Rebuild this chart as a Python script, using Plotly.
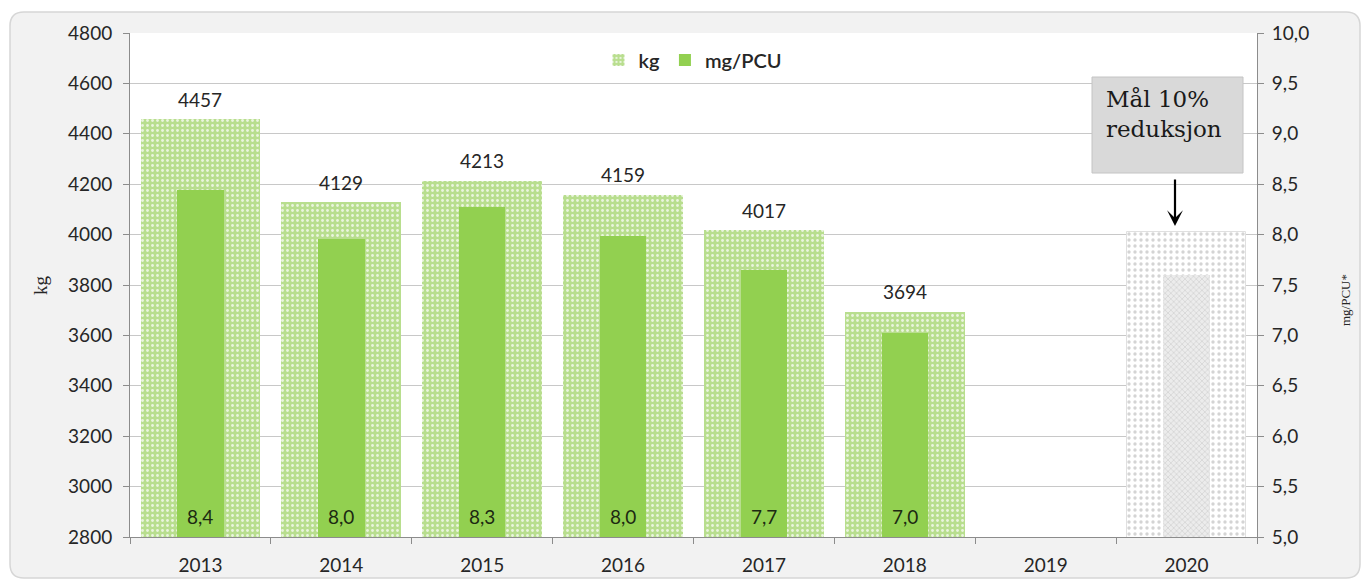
import plotly.graph_objects as go

years = ["2013", "2014", "2015", "2016", "2017", "2018", "2019", "2020"]
kg_years = ["2013", "2014", "2015", "2016", "2017", "2018"]
kg_values = [4457, 4129, 4213, 4159, 4017, 3694]
mg_values = [8.44, 7.96, 8.27, 7.99, 7.65, 7.02]
mg_labels = ["8,4", "8,0", "8,3", "8,0", "7,7", "7,0"]
target_year = ["2020"]
target_kg = [4011]
target_mg = [7.6]

# page offset of the figure (body margin) and plot area in page pixels
OFF = 8
L, R, T, B = 130, 1257, 33, 537
FW, FH = 1369 - OFF, 581 - OFF


def px(xp):
    return (xp - L) / (R - L)


def py(yp):
    return (B - yp) / (B - T)


FONT = "Lato"
TXT = "#262626"
AX = "#8c8c8c"

fig = go.Figure()

fig.add_trace(go.Bar(
    x=kg_years, y=kg_values, name="kg", width=0.85,
    marker=dict(color="#bfe29a", line=dict(width=0),
                pattern=dict(shape=".", fgcolor="#eaf5de", bgcolor="#b8de8e",
                             size=5, solidity=0.25, fillmode="replace")),
    yaxis="y",
))
fig.add_trace(go.Bar(
    x=target_year, y=target_kg, name="target kg", width=0.85, showlegend=False,
    marker=dict(color="white", line=dict(width=1, color="#e0e0e0"),
                pattern=dict(shape=".", fgcolor="#d4d4d4", bgcolor="white",
                             size=6, solidity=0.25, fillmode="replace")),
    yaxis="y",
))
fig.add_trace(go.Bar(
    x=kg_years, y=mg_values, name="mg/PCU", width=0.33,
    marker=dict(color="#92d050", line=dict(width=0)),
    yaxis="y2",
))
fig.add_trace(go.Bar(
    x=target_year, y=target_mg, name="target mg", width=0.33, showlegend=False,
    marker=dict(color="#e6e6e6", line=dict(width=0),
                pattern=dict(shape="x", fgcolor="#cfcfcf", bgcolor="#ececec",
                             size=4, solidity=0.3, fillmode="replace")),
    yaxis="y2",
))

annotations = []
for yr, v, lab in zip(kg_years, kg_values, mg_labels):
    i = years.index(yr)
    annotations.append(dict(x=i, y=v, xref="x", yref="y", text=str(v),
                            showarrow=False, yshift=20,
                            font=dict(family=FONT, size=19, color=TXT)))
    annotations.append(dict(x=i, y=2800, xref="x", yref="y", text=lab,
                            showarrow=False, yshift=21,
                            font=dict(family=FONT, size=19, color="#1c2a12")))

# target box text
annotations.append(dict(
    x=px(1104), y=py(84), xref="paper", yref="paper", xanchor="left", yanchor="top",
    text="Mål 10%<br>reduksjon", showarrow=False, align="left",
    font=dict(family="DejaVu Serif", size=23, color="#1a1a1a"),
))
# arrow
annotations.append(dict(
    x=px(1175), y=py(226), xref="paper", yref="paper", ax=0, ay=-48,
    text="", showarrow=True, arrowhead=3, arrowsize=1.2, arrowwidth=2.2,
    arrowcolor="#000000",
))
# axis titles
annotations.append(dict(x=px(40), y=0.5, xref="paper", yref="paper", text="kg",
                        textangle=-90, showarrow=False, xanchor="center", yanchor="middle",
                        font=dict(family="Liberation Serif", size=19, color=TXT)))
annotations.append(dict(x=px(1345), y=py(300), xref="paper", yref="paper", text="mg/PCU*",
                        textangle=-90, showarrow=False, xanchor="center", yanchor="middle",
                        font=dict(family="Liberation Serif", size=13, color=TXT)))

shapes = []
# rounded outer background
x0, y0, x1, y1, r = px(10), py(12), px(1360), py(578), 14
rx = r / (R - L)
ry = r / (B - T)
path = (f"M {x0+rx},{y0} L {x1-rx},{y0} Q {x1},{y0} {x1},{y0-ry} "
        f"L {x1},{y1+ry} Q {x1},{y1} {x1-rx},{y1} L {x0+rx},{y1} "
        f"Q {x0},{y1} {x0},{y1+ry} L {x0},{y0-ry} Q {x0},{y0} {x0+rx},{y0} Z")
shapes.append(dict(type="path", path=path, xref="paper", yref="paper",
                   fillcolor="#f2f2f2", line=dict(color="#d6d6d6", width=1.5), layer="below"))
shapes.append(dict(type="rect", x0=0, x1=1, y0=0, y1=1, xref="paper", yref="paper",
                   fillcolor="white", line=dict(width=0), layer="below"))
# target box
shapes.append(dict(type="rect", x0=px(1092), x1=px(1243), y0=py(77), y1=py(173),
                   xref="paper", yref="paper", fillcolor="#d9d9d9",
                   line=dict(color="#c4c4c4", width=1), layer="above"))

fig.update_layout(
    width=FW, height=FH,
    margin=dict(l=L - OFF, r=FW - (R - OFF), t=T - OFF, b=FH - (B - OFF), pad=0,
                autoexpand=False),
    paper_bgcolor="white", plot_bgcolor="white",
    barmode="overlay", bargap=0,
    separators=", ",
    font=dict(family=FONT, size=19, color=TXT),
    showlegend=True,
    legend=dict(orientation="h", x=px(693), y=py(60), xanchor="center", yanchor="middle",
                bgcolor="rgba(0,0,0,0)",
                font=dict(family=FONT, size=20, color=TXT, weight=600),
                itemwidth=30, traceorder="normal", tracegroupgap=0),
    xaxis=dict(type="category", categoryorder="array", categoryarray=years,
               range=[-0.5, 7.5], showgrid=False, showline=True, linecolor=AX,
               linewidth=1, ticks="outside", ticklen=6, tickcolor=AX,
               tickson="boundaries", ticklabelstandoff=11, automargin=False,
               tickfont=dict(family=FONT, size=19, color=TXT)),
    yaxis=dict(range=[2800, 4800], dtick=200, tick0=2800, showgrid=True,
               gridcolor="#c8c8c8", gridwidth=1, showline=True, linecolor=AX,
               ticks="outside", ticklen=6, tickcolor=AX, zeroline=False,
               ticklabelstandoff=7, automargin=False,
               tickfont=dict(family=FONT, size=19, color=TXT)),
    yaxis2=dict(range=[5, 10], dtick=0.5, tick0=5, tickformat=".1f", overlaying="y",
                side="right", showgrid=False, showline=True, linecolor=AX,
                ticks="outside", ticklen=6, tickcolor=AX, zeroline=False,
                ticklabelstandoff=4, automargin=False,
                tickfont=dict(family=FONT, size=19, color=TXT)),
    annotations=annotations,
    shapes=shapes,
)

fig.write_html("out.html")
